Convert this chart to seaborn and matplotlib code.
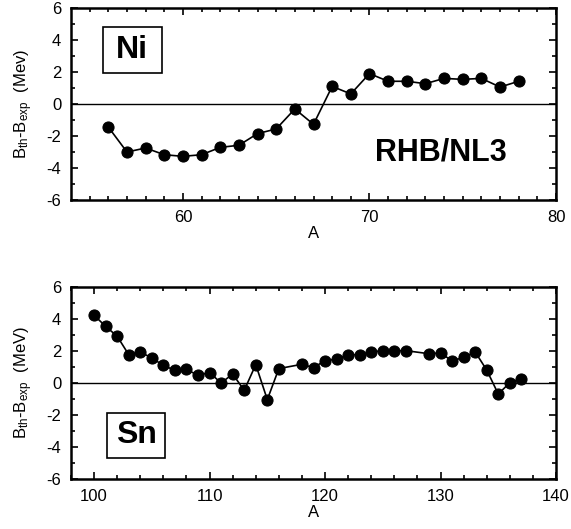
import matplotlib
matplotlib.use("Agg")
import matplotlib.pyplot as plt
from matplotlib.patches import Rectangle
import seaborn as sns
import pandas as pd

# Ni isotopes (RHB/NL3)
ni_A = [56, 57, 58, 59, 60, 61, 62, 63, 64, 65, 66, 67, 68, 69, 70, 71, 72, 73, 74, 75, 76, 77, 78]
ni_dB = [-1.44, -3.0, -2.75, -3.17, -3.27, -3.17, -2.71, -2.58, -1.85, -1.56, -0.31, -1.27,
         1.10, 0.63, 1.90, 1.42, 1.42, 1.27, 1.60, 1.54, 1.60, 1.06, 1.42]

# Sn isotopes
sn_A = [100, 101, 102, 103, 104, 105, 106, 107, 108, 109, 110, 111, 112, 113, 114, 115, 116,
        118, 119, 120, 121, 122, 123, 124, 125, 126, 127, 129, 130, 131, 132, 133, 134, 135, 136, 137]
sn_dB = [4.23, 3.54, 2.92, 1.77, 1.94, 1.56, 1.10, 0.79, 0.85, 0.48, 0.65, 0.0, 0.56, -0.46, 1.15, -1.04, 0.90,
         1.17, 0.96, 1.40, 1.48, 1.77, 1.77, 1.94, 2.02, 2.02, 2.02,
         1.83, 1.88, 1.38, 1.60, 1.94, 0.81, -0.69, 0.02, 0.27]

sns.set_style("ticks")
plt.rcParams['font.family'] = ['Liberation Sans', 'DejaVu Sans']
plt.rcParams['mathtext.fontset'] = 'custom'
plt.rcParams['mathtext.rm'] = 'Liberation Sans'
plt.rcParams['mathtext.it'] = 'Liberation Sans'
plt.rcParams['axes.unicode_minus'] = False
for k in ['text.color', 'axes.labelcolor', 'xtick.color', 'ytick.color', 'axes.edgecolor']:
    plt.rcParams[k] = 'black'

fig = plt.figure(figsize=(5.71, 5.29), dpi=100)
L, R = 71 / 571, 556 / 571
ax1 = fig.add_axes([L, 0.6219, R - L, 0.9849 - 0.6219])
ax2 = fig.add_axes([L, 0.0945, R - L, 0.4575 - 0.0945])

df_ni = pd.DataFrame({"A": ni_A, "dB": ni_dB})
df_sn = pd.DataFrame({"A": sn_A, "dB": sn_dB})

for ax, df, xlim, xmajor, xminor, ylab in [
    (ax1, df_ni, (54, 80), [60, 70, 80], list(range(55, 80)), 'B$_{\\rm th}$-B$_{\\rm exp}$  (Mev)'),
    (ax2, df_sn, (98, 140), [100, 110, 120, 130, 140], list(range(98, 141, 2)), 'B$_{\\rm th}$-B$_{\\rm exp}$  (MeV)'),
]:
    ax.axhline(0, color='black', lw=1.0, zorder=1)
    sns.lineplot(data=df, x="A", y="dB", ax=ax, color='black', lw=1.2, marker='o',
                 markersize=8, markeredgecolor='black', markerfacecolor='black', zorder=3)
    ax.set_xlim(*xlim)
    ax.set_ylim(-6, 6)
    ax.set_xticks(xmajor)
    ax.set_xticks(xminor, minor=True)
    ax.set_yticks([-6, -4, -2, 0, 2, 4, 6])
    ax.set_yticks(list(range(-6, 7)), minor=True)
    ax.tick_params(which='both', direction='in', top=True, right=True, labelsize=12, width=1.2,
                   colors='black', pad=7)
    ax.tick_params(which='major', length=5)
    ax.tick_params(which='minor', length=3)
    for s in ax.spines.values():
        s.set_linewidth(1.8)
        s.set_color('black')
    ax.set_xlabel('A', fontsize=12, labelpad=1, color='black')
    ax.set_ylabel(ylab, fontsize=12, labelpad=8, color='black')

# label boxes
ax1.add_patch(Rectangle((0.065, 0.661), 0.122, 0.240, transform=ax1.transAxes,
                        fc='white', ec='black', lw=1.2, zorder=4))
ax1.text(0.126, 0.781, 'Ni', transform=ax1.transAxes, fontsize=23, fontweight='bold',
         ha='center', va='center', color='black', zorder=5)
ax1.text(0.763, 0.25, 'RHB/NL3', transform=ax1.transAxes, fontsize=22, fontweight='bold',
         ha='center', va='center', color='black')
ax2.add_patch(Rectangle((0.074, 0.109), 0.120, 0.235, transform=ax2.transAxes,
                        fc='white', ec='black', lw=1.2, zorder=4))
ax2.text(0.134, 0.227, 'Sn', transform=ax2.transAxes, fontsize=23, fontweight='bold',
         ha='center', va='center', color='black', zorder=5)

fig.savefig('out.png', dpi=100)
